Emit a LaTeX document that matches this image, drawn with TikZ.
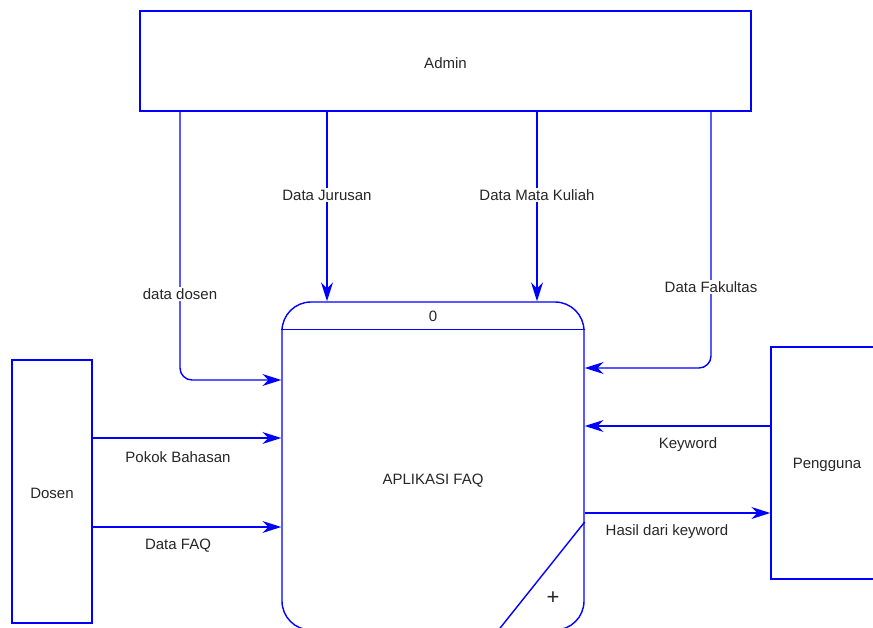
\documentclass[tikz,border=0pt]{standalone}
\usepackage{fontspec}
\setmainfont{Liberation Sans}
\usetikzlibrary{arrows.meta,calc}
\definecolor{dfdblue}{RGB}{0,0,255}
\begin{document}
\begin{tikzpicture}[x=1pt,y=-1pt,
  every node/.style={font=\fontsize{15}{18}\selectfont, text=black!85},
  ent/.style={draw=dfdblue, line width=1.4pt, inner sep=0pt},
  edge/.style={draw=dfdblue, line width=1.4pt},
  flow/.style={edge, -{Stealth[length=19pt,width=12pt,inset=6pt]}},
  lbl/.style={fill=white, inner sep=1.5pt}]
\useasboundingbox (0,0) rectangle (873,628);
% entities
\node[ent, minimum width=611pt, minimum height=100pt] (admin) at (445.5,61) {};
\node at (445.5,63) {Admin};
\node[ent, minimum width=80pt, minimum height=263pt] (dosen) at (52,491.5) {};
\node at (52,493) {Dosen};
\node[ent, minimum width=112pt, minimum height=232pt] (peng) at (827,463) {};
\node at (827,465) {Pengguna};
% process
\node[ent, rounded corners=29pt, minimum width=302pt, minimum height=328pt] (proc) at (433,466) {};
\draw[edge] ($(proc.north west)+(0,28)$) -- ($(proc.north east)+(0,28)$);
\draw[edge] ($(proc.east)+(0,56)$) -- ($(proc.south)+(65,0)$);
\node at (433,316) {0};
\node at (433,481) {APLIKASI FAQ};
\node[font=\fontsize{22}{24}\selectfont] at (553,598) {+};
% coordinates
\coordinate (dd) at (180,380);
\coordinate (jur) at (327,0);
\coordinate (mk) at (537,0);
\coordinate (fk) at (711,368);
\coordinate (kw) at (0,426);
\coordinate (hs) at (0,513);
\coordinate (pb) at (0,438);
\coordinate (fq) at (0,527);
% flows
\draw[flow, rounded corners=12pt] (admin.south -| dd) -- (dd) -- (proc.west |- dd);
\node[lbl] at (180,294) {data dosen};
\draw[flow] (admin.south -| jur) -- (proc.north -| jur);
\node[lbl] at (327,195) {Data Jurusan};
\draw[flow] (admin.south -| mk) -- (proc.north -| mk);
\node[lbl] at (537,195) {Data Mata Kuliah};
\draw[flow, rounded corners=12pt] (admin.south -| fk) -- (fk) -- (proc.east |- fk);
\node[lbl] at (711,287) {Data Fakultas};
\draw[flow] (peng.west |- kw) -- (proc.east |- kw);
\node at (688,445) {Keyword};
\draw[flow] (proc.east |- hs) -- (peng.west |- hs);
\node at (667,532) {Hasil dari keyword};
\draw[flow] (dosen.east |- pb) -- (proc.west |- pb);
\node at (178,457) {Pokok Bahasan};
\draw[flow] (dosen.east |- fq) -- (proc.west |- fq);
\node at (178,546) {Data FAQ};
\end{tikzpicture}
\end{document}
